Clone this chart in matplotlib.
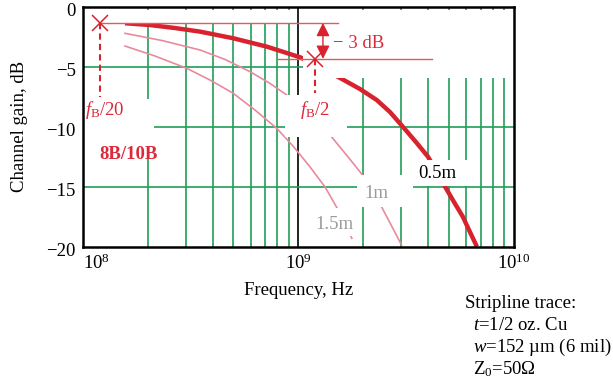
import numpy as np
import matplotlib
matplotlib.use("Agg")
from matplotlib import pyplot as plt
from matplotlib.transforms import ScaledTranslation

plt.rcParams['font.family'] = ['Liberation Serif', 'DejaVu Serif']
plt.rcParams['mathtext.fontset'] = 'custom'
plt.rcParams['mathtext.rm'] = 'Liberation Serif'
plt.rcParams['mathtext.it'] = 'Liberation Serif:italic'
plt.rcParams['font.size'] = 13.5

# channel gain of a stripline trace for three lengths
freq_05 = [1.57e8, 2.05e8, 2.68e8, 3.5e8, 4.98e8, 7.14e8, 1.02e9, 1.26e9, 1.56e9, 1.93e9, 2.31e9,
           2.66e9, 3.05e9, 3.51e9, 3.99e9, 4.4e9, 4.79e9, 5.27e9, 5.79e9, 6.25e9, 6.73e9]
gain_05 = [-1.38, -1.53, -1.78, -2.08, -2.63, -3.33, -4.22, -5.03, -5.94, -6.86, -7.78,
           -8.78, -10.0, -11.28, -12.5, -13.78, -15.0, -16.28, -17.5, -18.78, -20.0]

freq_1 = [1.57e8, 2.33e8, 3.5e8, 4.57e8, 5.97e8, 7.39e8, 8.83e8, 1.13e9, 1.43e9, 1.73e9,
          2.04e9, 2.43e9, 3.01e9]
gain_1 = [-2.22, -2.82, -3.61, -4.40, -5.42, -6.40, -7.36, -8.98, -10.88, -12.69,
          -14.30, -16.67, -19.86]

freq_15 = [1.57e8, 2.16e8, 3.03e8, 3.89e8, 4.99e8, 6.29e8, 7.93e8, 9.44e8, 1.13e9, 1.33e9,
           1.53e9, 1.77e9]
gain_15 = [-3.28, -4.11, -5.13, -6.11, -7.22, -8.61, -10.13, -11.61, -13.33, -15.03,
           -16.94, -19.3]

f_b = 2.4e9          # baud rate, 8B/10B
ref_level = -1.35    # gain at f_B/20
drop_db = 3.0        # marked drop down to f_B/2

yticks = [0, -5, -10, -15, -20]
xticks = [1e8, 1e9, 1e10]
xtick_labels = ['$10^8$', '$10^9$', '$10^{10}$']

red = '#d8232f'
pink = '#e98a9c'
green = '#1f9e5a'
annot = '#dc2a3a'
refc = '#e25a5c'

fig = plt.figure(figsize=(6.13, 3.81), dpi=100)
ax = fig.add_axes([0.135, 0.3525, 0.7035, 0.63])
ax.set_xscale('log')
ax.set_xlim(1e8, 1e10)
ax.set_ylim(-20, 0)

# grid: green minor lines, black line at 1 GHz
for dec in [1e8, 1e9]:
    for k in range(2, 10):
        ax.axvline(k * dec, color=green, lw=1.2, zorder=1)
ax.axvline(1e9, color='black', lw=1.2, zorder=1)
for y in [-5, -10, -15]:
    ax.axhline(y, color=green, lw=1.2, zorder=1)

ax.plot(freq_15, gain_15, color=pink, lw=1.2, zorder=1.5)
ax.plot(freq_1, gain_1, color=pink, lw=1.2, zorder=1.5)
ax.plot(freq_05, gain_05, color=red, lw=3.2, zorder=1.6, solid_capstyle='butt')


def mask(x0, x1, y0, y1):
    ax.fill([x0, x1, x1, x0], [y0, y0, y1, y1], color='white', lw=0, zorder=2)


# white areas behind the annotations
mask(1e8, 9.77e8, -0.28, -1.36)
mask(1.047e9, 1e10, -0.28, -5.95)
mask(8.67e8, 1.68e9, -7.36, -10.86)
mask(1e8, 2.13e8, -7.7, -11.78)
mask(3.4e9, 6.05e9, -12.78, -14.92)
mask(1.87e9, 3.4e9, -14.03, -16.69)
mask(1.07e9, 1.85e9, -16.78, -19.1)

# -3 dB construction
f20 = f_b / 20
f2 = f_b / 2
low_level = ref_level - drop_db
ax.plot([f20, 1.53e9], [ref_level, ref_level], color=refc, lw=1.0, zorder=3)
ax.plot([8.06e8, 4.17e9], [low_level, low_level], color=refc, lw=1.0, zorder=3)
ax.plot([f20, f2], [ref_level, low_level], ls='none', marker='x', ms=11, mew=1.1,
        color=red, zorder=3.5)
ax.plot([f20, f20], [ref_level, -7.5], color=red, lw=1.5, ls=(0, (3, 2)), zorder=3)
ax.plot([f2, f2], [low_level, -7.2], color=red, lw=1.5, ls=(0, (3, 2)), zorder=3)
ax.annotate('', xy=(1.3e9, low_level), xytext=(1.3e9, ref_level),
            arrowprops=dict(arrowstyle='<|-|>,head_length=0.5,head_width=0.25', color=red,
                            lw=1.0, mutation_scale=16, shrinkA=0, shrinkB=0), zorder=3)
ax.text(1.45e9, -3.03, '\u2212 3 dB', color=annot, ha='left', va='center', zorder=4)
ax.text(1.27e8, -8.61, r'$f_\mathrm{B}$/20', color=annot, ha='center', va='center', zorder=4)
ax.text(1.19e9, -8.61, r'$f_\mathrm{B}$/2', color=annot, ha='center', va='center', zorder=4)
ax.text(1.2e8, -12.28, '8B/10B', color=annot, ha='left', va='center',
        fontweight='bold', zorder=4)

ax.text(4.4e9, -13.86, '0.5m', color='black', ha='center', va='center', zorder=4)
ax.text(2.3e9, -15.53, '1m', color='#9a9a9a', ha='center', va='center', zorder=4)
ax.text(1.47e9, -18.11, '1.5m', color='#9a9a9a', ha='center', va='center', zorder=4)

ax.set_yticks(yticks)
ax.set_xticks(xticks)
ax.set_xticklabels(xtick_labels)
ax.xaxis.set_minor_locator(matplotlib.ticker.NullLocator())
ax.get_xticklabels()[0].set_horizontalalignment('left')
ax.tick_params(length=0, pad=5, labelsize=13.5)
# y labels sit a little low
down = ScaledTranslation(0, -3 / 100, fig.dpi_scale_trans)
for lab in ax.get_yticklabels():
    lab.set_transform(lab.get_transform() + down)
for s in ax.spines.values():
    s.set_linewidth(1.8)
    s.set_zorder(5)

ax.set_xlabel('Frequency, Hz')
ax.xaxis.set_label_coords(0.5, -0.145)
ax.set_ylabel('Channel gain, dB')
ax.yaxis.set_label_coords(-0.126, 0.5)

notes = ['Stripline trace:', '$t$=1/2 oz. Cu', '$w$=152 \u00b5m (6 mil)', 'Z$_0$=50\u03a9']
fig.text(465 / 613, 1 - 303 / 381, notes[0], ha='left', va='center')
for i, line in enumerate(notes[1:]):
    fig.text(473 / 613, 1 - (325 + 22 * i) / 381, line, ha='left', va='center')

fig.savefig('out.png', dpi=100)
